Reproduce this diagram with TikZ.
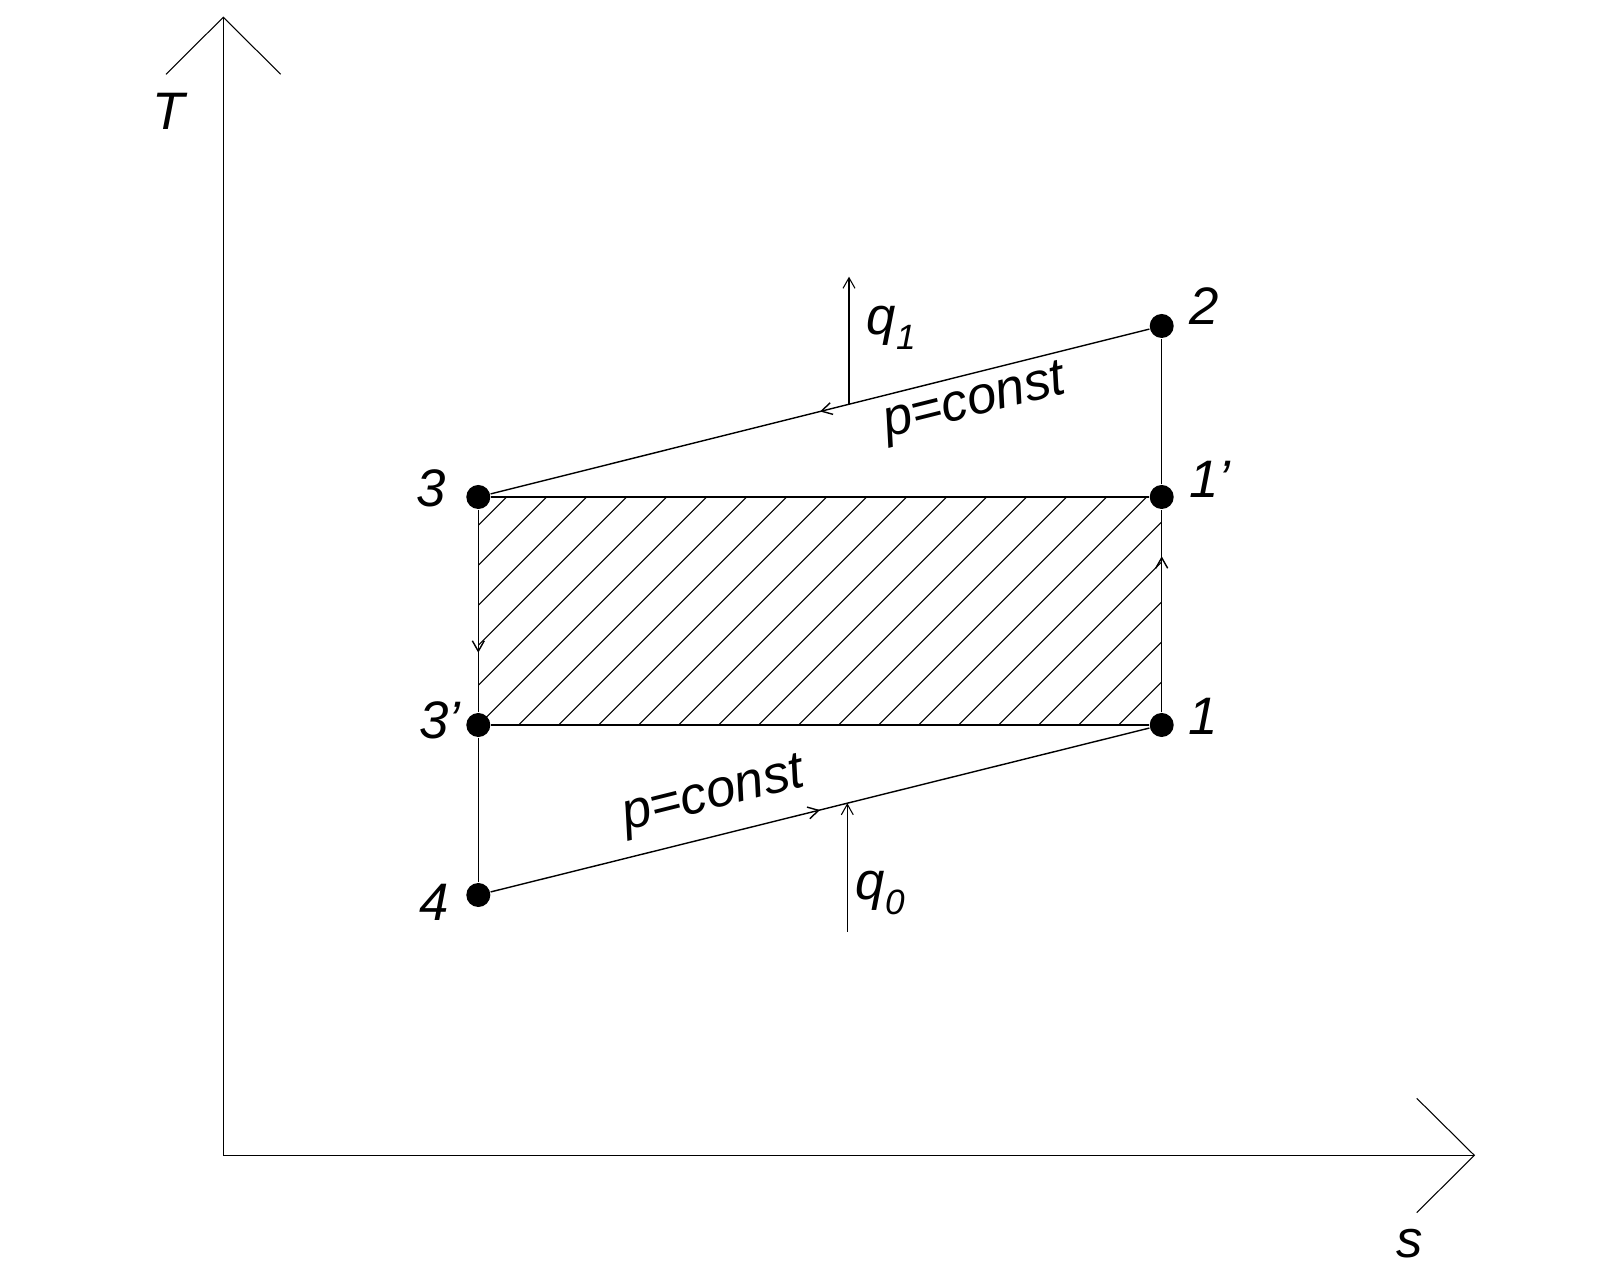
\documentclass[tikz,border=0pt]{standalone}
\usepackage{fontspec}
\setmainfont{Liberation Sans}
\usetikzlibrary{arrows.meta,decorations.markings}
\begin{document}
\begin{tikzpicture}[x=0.01cm,y=-0.01cm,
  mainline/.style={line width=0.4pt},
  thinline/.style={line width=0.3pt},
  dot/.style={circle,fill=black,draw=none,inner sep=0pt,minimum size=0.24cm},
  lbl/.style={font=\fontsize{15}{15}\selectfont\itshape,inner sep=0pt},
  plbl/.style={font=\fontsize{15}{15}\selectfont\itshape,inner sep=0pt,rotate=14},
  mybarb/.tip={Straight Barb[length=3pt,width=3.4pt]},
  midarrow/.style={postaction={decorate},decoration={markings,mark=at position #1 with {\arrow{mybarb}}}}
]
\useasboundingbox (0,0) rectangle (1600,1280);
\fill[white] (0,0) rectangle (1600,1280);

% axes
\coordinate (O) at (223.3,1155.3);
\coordinate (Ttop) at (223.3,17.3);
\coordinate (Send) at (1474.3,1155.3);
\coordinate (Tw1) at (166,74.3);
\coordinate (Tw2) at (280.7,74.3);
\coordinate (Sw1) at (1416.7,1098.3);
\coordinate (Sw2) at (1416.7,1212.7);
\draw[mainline] (Ttop) -- (O) -- (Send);
\draw[thinline] (Tw1) -- (Ttop) -- (Tw2);
\draw[thinline] (Sw1) -- (Send) -- (Sw2);
\node[lbl] (lT) at (169,111) {T};
\node[lbl] (ls) at (1410,1244) {s};

% state points
\node[dot] (p2) at (1161.7,326) {};
\node[dot] (p1p) at (1161.7,497) {};
\node[dot] (p1) at (1161.7,725) {};
\node[dot] (p3) at (478.3,497) {};
\node[dot] (p3p) at (478.3,725) {};
\node[dot] (p4) at (478.3,895) {};

% hatching
\begin{scope}
  \clip (p3.center) rectangle (p1.center);
  \foreach \k in {0,...,22} {
    \draw[thinline] ({1003.7+40*\k-400},400) -- ({1003.7+40*\k-800},800);
  }
\end{scope}

% cycle
\draw[mainline,midarrow=0.5] (p2) -- (p3);
\draw[mainline,midarrow=0.5] (p4) -- (p1);
\draw[mainline,midarrow=0.77] (p1) -- (p1p);
\draw[mainline] (p1p) -- (p2);
\draw[mainline,midarrow=0.706] (p3) -- (p3p);
\draw[mainline] (p3p) -- (p4);
\draw[mainline] (p3) -- (p1p);
\draw[mainline] (p3p) -- (p1);

% heat arrows
\coordinate (q1a) at (849,404.1);
\coordinate (q1b) at (849,276.7);
\coordinate (q0a) at (847.3,931.7);
\coordinate (q0b) at (847.3,803.2);
\draw[thinline,-{mybarb}] (q1a) -- (q1b);
\draw[thinline,-{mybarb}] (q0a) -- (q0b);

% labels
\node[lbl] (l3) at (431,488) {3};
\node[lbl] (l3p) at (440,720) {3'};
\node[lbl] (l2) at (1204,306) {2};
\node[lbl] (l1p) at (1210,479) {1'};
\node[lbl] (l1) at (1203,716) {1};
\node[lbl] (l4) at (434,902) {4};
\node[lbl,anchor=base west] (lq1) at (866,335) {q\raisebox{-4pt}{\fontsize{10}{10}\selectfont 1}};
\node[lbl,anchor=base west] (lq0) at (855,900) {q\raisebox{-4pt}{\fontsize{10}{10}\selectfont 0}};
\node[plbl] (lpt) at (975,404) {p=const};
\node[plbl] (lpb) at (714,797) {p=const};
\end{tikzpicture}
\end{document}
